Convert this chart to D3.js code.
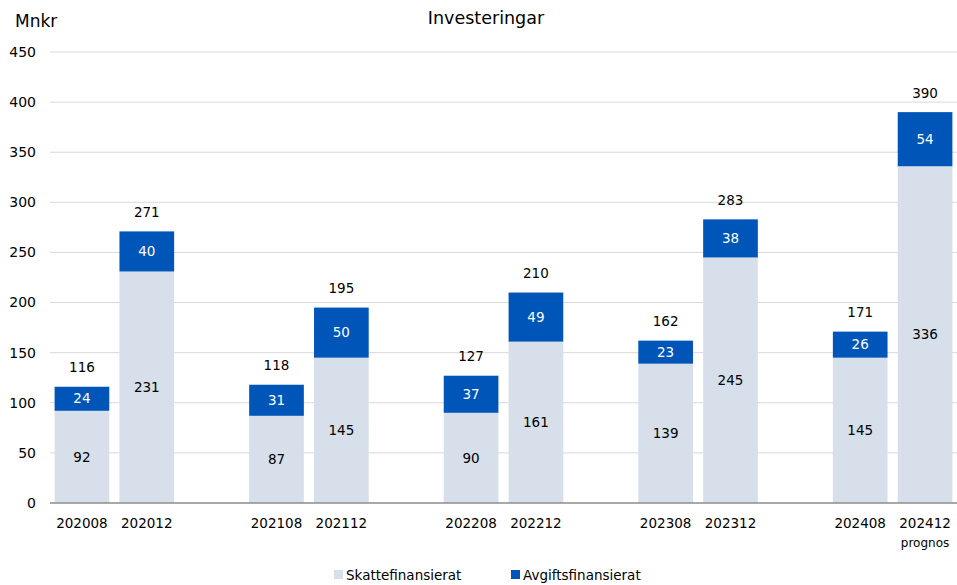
<!DOCTYPE html>
<html>
<head>
<meta charset="utf-8">
<script src="https://cdn.jsdelivr.net/npm/d3@7"></script>
<style>
	body { margin: 0; background: #fff; }
	text { font-family: "DejaVu Sans", sans-serif; fill: #000; }
</style>
</head>
<body>
<svg id="chart"></svg>
<script>
// data
const periods = ["202008", "202012", "202108", "202112", "202208", "202212", "202308", "202312", "202408", "202412"];
const skattefinansierat = [92, 231, 87, 145, 90, 161, 139, 245, 145, 336];
const avgiftsfinansierat = [24, 40, 31, 50, 37, 49, 23, 38, 26, 54];
const yTicks = [0, 50, 100, 150, 200, 250, 300, 350, 400, 450];
const seriesNames = ["Skattefinansierat", "Avgiftsfinansierat"];
const colors = ["#D6DFEA", "#0055B8"];

const width = 957, height = 585;
const margin = {top: 52, right: 0, bottom: 82, left: 50};

// one empty slot after every second period
let slots = [];
periods.forEach((p, i) => {
	slots.push(p);
	if (i % 2 == 1 && i < periods.length - 1) slots.push("gap" + i);
});

let rows = periods.map((p, i) => ({
	period: p,
	skatt: skattefinansierat[i],
	avgift: avgiftsfinansierat[i],
	total: skattefinansierat[i] + avgiftsfinansierat[i]
}));

const svg = d3.select("#chart")
	.attr("width", width)
	.attr("height", height);

const xScale = d3.scaleBand()
	.domain(slots)
	.range([margin.left, width - margin.right])
	.paddingInner(0.157)
	.paddingOuter(0.071);

const yScale = d3.scaleLinear()
	.domain([0, 450])
	.range([height - margin.bottom, margin.top]);

// gridlines
svg.selectAll(".grid")
	.data(yTicks.filter(d => d > 0))
	.join("line")
	.attr("class", "grid")
	.attr("x1", margin.left)
	.attr("x2", width)
	.attr("y1", d => yScale(d))
	.attr("y2", d => yScale(d))
	.attr("stroke", "#D9D9D9")
	.attr("stroke-width", 1);

svg.selectAll(".ytick")
	.data(yTicks)
	.join("text")
	.attr("class", "ytick")
	.text(d => d)
	.attr("x", 36)
	.attr("y", d => yScale(d))
	.attr("dy", "0.35em")
	.attr("text-anchor", "end")
	.attr("font-size", 14);

// stacked bars
const stack = d3.stack().keys(["skatt", "avgift"]);
const layers = stack(rows);

svg.selectAll(".layer")
	.data(layers)
	.join("g")
	.attr("class", "layer")
	.attr("fill", (d, i) => colors[i])
	.selectAll("rect")
	.data(d => d)
	.join("rect")
	.attr("x", d => xScale(d.data.period))
	.attr("y", d => yScale(d[1]))
	.attr("width", xScale.bandwidth())
	.attr("height", d => yScale(d[0]) - yScale(d[1]));

// segment labels
layers.forEach((layer, li) => {
	svg.selectAll(".seg" + li)
		.data(layer)
		.join("text")
		.attr("class", "seg" + li)
		.text(d => d[1] - d[0])
		.attr("x", d => xScale(d.data.period) + xScale.bandwidth() / 2)
		.attr("y", d => (yScale(d[0]) + yScale(d[1])) / 2)
		.attr("dy", "0.35em")
		.attr("text-anchor", "middle")
		.attr("font-size", 13.5)
		.style("fill", li == 1 ? "#fff" : "#000");
});

// totals
svg.selectAll(".total")
	.data(rows)
	.join("text")
	.attr("class", "total")
	.text(d => d.total)
	.attr("x", d => xScale(d.period) + xScale.bandwidth() / 2)
	.attr("y", d => yScale(d.total) - 19)
	.attr("dy", "0.35em")
	.attr("text-anchor", "middle")
	.attr("font-size", 13.5);

// x axis line
svg.append("line")
	.attr("x1", margin.left)
	.attr("x2", width)
	.attr("y1", yScale(0))
	.attr("y2", yScale(0))
	.attr("stroke", "#8C8C8C")
	.attr("stroke-width", 1.5);

svg.selectAll(".xlabel")
	.data(periods)
	.join("text")
	.attr("class", "xlabel")
	.text(d => d)
	.attr("x", d => xScale(d) + xScale.bandwidth() / 2)
	.attr("y", yScale(0) + 20)
	.attr("dy", "0.35em")
	.attr("text-anchor", "middle")
	.attr("font-size", 13.5);

svg.append("text")
	.text("prognos")
	.attr("x", xScale(periods[periods.length - 1]) + xScale.bandwidth() / 2)
	.attr("y", yScale(0) + 40)
	.attr("dy", "0.35em")
	.attr("text-anchor", "middle")
	.attr("font-size", 12);

// titles
svg.append("text")
	.text("Investeringar")
	.attr("x", 486)
	.attr("y", 18)
	.attr("dy", "0.35em")
	.attr("text-anchor", "middle")
	.attr("font-size", 17.5);

svg.append("text")
	.text("Mnkr")
	.attr("x", 15)
	.attr("y", 21)
	.attr("dy", "0.35em")
	.attr("font-size", 17);

// legend
const legendX = [334, 511];
seriesNames.forEach((name, i) => {
	svg.append("rect")
		.attr("x", legendX[i])
		.attr("y", 570)
		.attr("width", 9)
		.attr("height", 9)
		.attr("fill", colors[i]);
	svg.append("text")
		.text(name)
		.attr("x", legendX[i] + 12)
		.attr("y", 575)
		.attr("dy", "0.35em")
		.attr("font-size", 13.5);
});
</script>
</body>
</html>
